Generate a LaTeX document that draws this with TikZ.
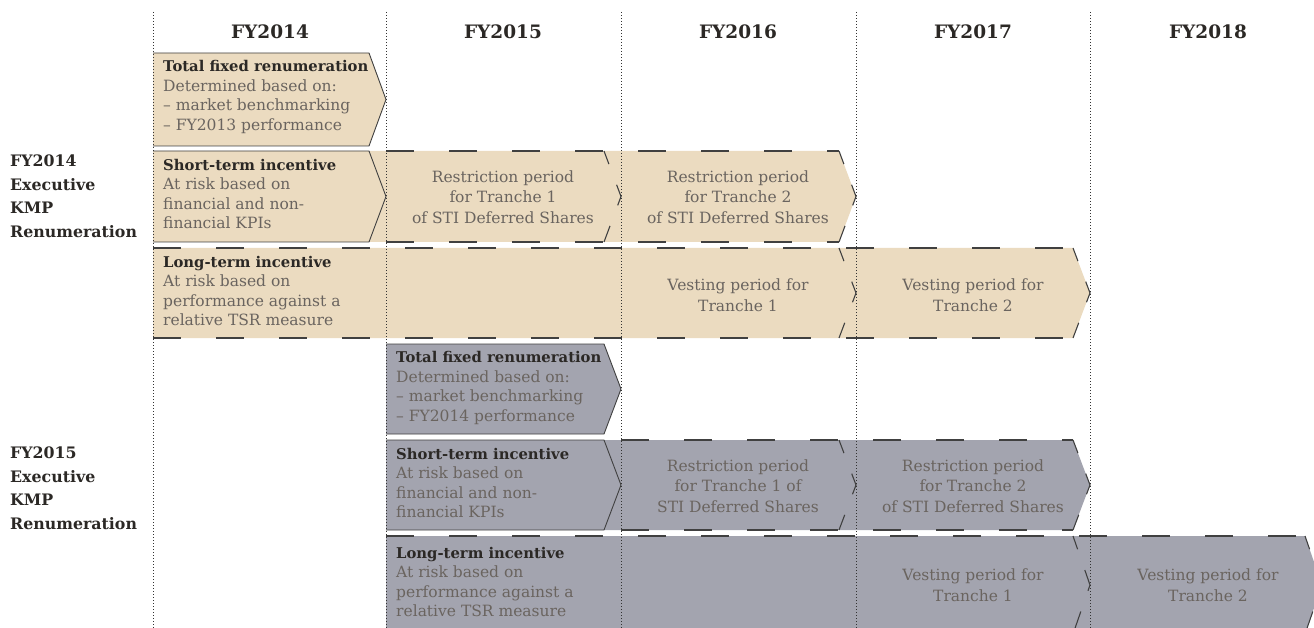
\documentclass[tikz,border=0pt]{standalone}
\usepackage{fontspec}
\setmainfont{DejaVu Serif}
\usepackage{tikz}
\usetikzlibrary{positioning}
\definecolor{sand}{HTML}{EBDBC0}
\definecolor{slate}{HTML}{A3A4AF}
\definecolor{ink}{HTML}{2B2825}
\definecolor{bodytxt}{HTML}{6A645F}
\definecolor{rule}{HTML}{404040}
\tikzset{
  yearlbl/.style={font=\fontsize{18.5}{20}\selectfont\bfseries,text=ink,inner sep=0pt},
  grouplbl/.style={font=\fontsize{15.8}{23.5}\selectfont\bfseries,text=ink,align=left,anchor=west,inner sep=0pt},
  cellhead/.style={align=left,anchor=west,inner sep=0pt,font=\fontsize{15.5}{19.5}\selectfont,text=bodytxt},
  celltxt/.style={align=center,inner sep=0pt,font=\fontsize{15.5}{20.5}\selectfont,text=bodytxt},
  solidedge/.style={draw=rule,line width=0.9pt},
  dashedge/.style={draw=rule,line width=1.3pt,dash pattern=on 28pt off 35pt},
  dashchev/.style={draw=rule,line width=1.1pt,dash pattern=on 14pt off 22pt on 22pt off 22pt on 20pt},
  colline/.style={draw=black!80,line width=0.8pt,dash pattern=on 1pt off 2pt},
}
% band of one row: colour, left x, tip x, top y, bottom y
\newcommand\bandfill[5]{\fill[#1] (#2,#4) -- (#3-17,#4) -- (#3,{(#4+#5)/2}) -- (#3-17,#5) -- (#2,#5) -- cycle;}
% chevron: style, tip x, top y, bottom y
\newcommand\chev[4]{\draw[#1] (#2-17,#3) -- (#2,{(#3+#4)/2}) -- (#2-17,#4);}
% solid box of the first cell: left x, tip x, top y, bottom y
\newcommand\solidcell[4]{\draw[solidedge] (#1,#3) -- (#2-17,#3) -- (#2,{(#3+#4)/2}) -- (#2-17,#4) -- (#1,#4);}
\newcommand\cellttl[1]{{\fontsize{14.8}{19.5}\selectfont\bfseries\color{ink}#1}}

\begin{document}
\begin{tikzpicture}[x=1pt,y=-1pt]
  \clip (0,0) rectangle (1314,628);

  % FY2014 package
  \bandfill{sand}{153}{386}{53}{146}
  \solidcell{153}{386}{53}{146}
  \bandfill{sand}{153}{856}{151}{242}
  \solidcell{153}{386}{151}{242}
  \draw[dashedge] (386,151) -- (839,151) (386,242) -- (839,242);
  \chev{dashchev}{621}{151}{242} \chev{dashchev}{856}{151}{242}
  \bandfill{sand}{153}{1090}{248}{338}
  \draw[dashedge] (153,248) -- (1073,248) (153,338) -- (1073,338);
  \chev{dashchev}{856}{248}{338} \chev{dashchev}{1090}{248}{338}

  % FY2015 package
  \bandfill{slate}{386}{621}{344}{434}
  \solidcell{386}{621}{344}{434}
  \bandfill{slate}{386}{1090}{440}{530}
  \solidcell{386}{621}{440}{530}
  \draw[dashedge] (621,440) -- (1073,440) (621,530) -- (1073,530);
  \chev{dashchev}{856}{440}{530} \chev{dashchev}{1090}{440}{530}
  \bandfill{slate}{386}{1322}{536}{634}
  \draw[dashedge] (386,536) -- (1305,536);
  \chev{dashchev}{1090}{536}{634} \chev{dashchev}{1322}{536}{634}

  % year columns
  \foreach \cx in {153,386,621,856,1090}
    \draw[colline] (\cx,12) -- (\cx,628);
  \node[yearlbl] (yr14) at (270,32) {FY2014};
  \node[yearlbl] (yr15) at (503,32) {FY2015};
  \node[yearlbl] (yr16) at (738,32) {FY2016};
  \node[yearlbl] (yr17) at (973,32) {FY2017};
  \node[yearlbl] (yr18) at (1208,32) {FY2018};

  \node[grouplbl] (grp14) at (10,196) {FY2014\\Executive\\KMP\\Renumeration};
  \node[grouplbl] (grp15) at (10,488) {FY2015\\Executive\\KMP\\Renumeration};

  \node[cellhead] (tfr14) at (163,97) {\cellttl{Total fixed renumeration}\\Determined based on:\\– market benchmarking\\– FY2013 performance};
  \node[cellhead] (sti14) at (163,194) {\cellttl{Short-term incentive}\\At risk based on\\financial and non-\\financial KPIs};
  \node[cellhead] (lti14) at (163,291) {\cellttl{Long-term incentive}\\At risk based on\\performance against a\\relative TSR measure};
  \node[celltxt] (rst14a) at (503,197) {Restriction period\\for Tranche 1\\of STI Deferred Shares};
  \node[celltxt] (rst14b) at (738,197) {Restriction period\\for Tranche 2\\of STI Deferred Shares};
  \node[celltxt] (vst14a) at (738,295) {Vesting period for\\Tranche 1};
  \node[celltxt] (vst14b) at (973,295) {Vesting period for\\Tranche 2};

  \node[cellhead] (tfr15) at (396,388) {\cellttl{Total fixed renumeration}\\Determined based on:\\– market benchmarking\\– FY2014 performance};
  \node[cellhead] (sti15) at (396,483) {\cellttl{Short-term incentive}\\At risk based on\\financial and non-\\financial KPIs};
  \node[cellhead] (lti15) at (396,582) {\cellttl{Long-term incentive}\\At risk based on\\performance against a\\relative TSR measure};
  \node[celltxt] (rst15a) at (738,486) {Restriction period\\for Tranche 1 of\\STI Deferred Shares};
  \node[celltxt] (rst15b) at (973,486) {Restriction period\\for Tranche 2\\of STI Deferred Shares};
  \node[celltxt] (vst15a) at (973,585) {Vesting period for\\Tranche 1};
  \node[celltxt] (vst15b) at (1208,585) {Vesting period for\\Tranche 2};
\end{tikzpicture}
\end{document}
